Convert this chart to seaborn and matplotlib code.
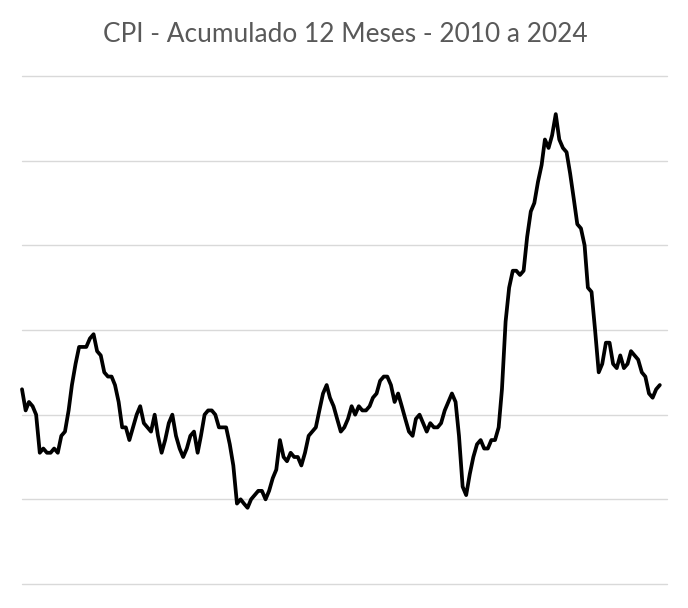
import numpy as np
import pandas as pd
import matplotlib
matplotlib.use("Agg")
import matplotlib.pyplot as plt
import seaborn as sns

# CPI EUA - variação acumulada em 12 meses (%), jan/2010 a nov/2024
cpi_2010 = [2.6, 2.1, 2.3, 2.2, 2.0, 1.1, 1.2, 1.1, 1.1, 1.2, 1.1, 1.5]
cpi_2011 = [1.6, 2.1, 2.7, 3.2, 3.6, 3.6, 3.6, 3.8, 3.9, 3.5, 3.4, 3.0]
cpi_2012 = [2.9, 2.9, 2.7, 2.3, 1.7, 1.7, 1.4, 1.7, 2.0, 2.2, 1.8, 1.7]
cpi_2013 = [1.6, 2.0, 1.5, 1.1, 1.4, 1.8, 2.0, 1.5, 1.2, 1.0, 1.2, 1.5]
cpi_2014 = [1.6, 1.1, 1.5, 2.0, 2.1, 2.1, 2.0, 1.7, 1.7, 1.7, 1.3, 0.8]
cpi_2015 = [-0.1, 0.0, -0.1, -0.2, 0.0, 0.1, 0.2, 0.2, 0.0, 0.2, 0.5, 0.7]
cpi_2016 = [1.4, 1.0, 0.9, 1.1, 1.0, 1.0, 0.8, 1.1, 1.5, 1.6, 1.7, 2.1]
cpi_2017 = [2.5, 2.7, 2.4, 2.2, 1.9, 1.6, 1.7, 1.9, 2.2, 2.0, 2.2, 2.1]
cpi_2018 = [2.1, 2.2, 2.4, 2.5, 2.8, 2.9, 2.9, 2.7, 2.3, 2.5, 2.2, 1.9]
cpi_2019 = [1.6, 1.5, 1.9, 2.0, 1.8, 1.6, 1.8, 1.7, 1.7, 1.8, 2.1, 2.3]
cpi_2020 = [2.5, 2.3, 1.5, 0.3, 0.1, 0.6, 1.0, 1.3, 1.4, 1.2, 1.2, 1.4]
cpi_2021 = [1.4, 1.7, 2.6, 4.2, 5.0, 5.4, 5.4, 5.3, 5.4, 6.2, 6.8, 7.0]
cpi_2022 = [7.5, 7.9, 8.5, 8.3, 8.6, 9.1, 8.5, 8.3, 8.2, 7.7, 7.1, 6.5]
cpi_2023 = [6.4, 6.0, 5.0, 4.9, 4.0, 3.0, 3.2, 3.7, 3.7, 3.2, 3.1, 3.4]
cpi_2024 = [3.1, 3.2, 3.5, 3.4, 3.3, 3.0, 2.9, 2.5, 2.4, 2.6, 2.7]

valores = (cpi_2010 + cpi_2011 + cpi_2012 + cpi_2013 + cpi_2014 + cpi_2015 + cpi_2016
           + cpi_2017 + cpi_2018 + cpi_2019 + cpi_2020 + cpi_2021 + cpi_2022
           + cpi_2023 + cpi_2024)
meses = pd.date_range("2010-01-01", periods=len(valores), freq="MS")
df = pd.DataFrame({"Mes": meses, "CPI": valores})

sns.set_theme(style="white")
plt.rcParams["font.family"] = ["Lato", "DejaVu Sans"]

fig = plt.figure(figsize=(6.88, 6.08), dpi=100)
ax = fig.add_axes([22 / 688, 24 / 608, 645 / 688, 508 / 608])

sns.lineplot(data=df, x="Mes", y="CPI", ax=ax, color="black", linewidth=2.7)
for line in ax.get_lines():
    line.set_solid_joinstyle("round")
    line.set_clip_on(False)

ax.set_ylim(-2, 10)
ax.set_yticks(np.arange(-2, 11, 2))
ax.set_xlim(pd.Timestamp("2010-01-01"), pd.Timestamp("2025-01-01"))
ax.grid(axis="y", color="#d9d9d9", linewidth=1.0)
ax.grid(axis="x", visible=False)
for g in ax.get_ygridlines():
    g.set_clip_on(False)
ax.set_axisbelow(True)
ax.tick_params(left=False, bottom=False, labelleft=False, labelbottom=False)
for s in ax.spines.values():
    s.set_visible(False)
ax.set_xlabel("")
ax.set_ylabel("")

fig.text(345 / 688, 1 - 35 / 608, "CPI - Acumulado 12 Meses - 2010 a 2024",
         ha="center", va="center", fontsize=18.9, color="#595959")

fig.savefig("out.png", dpi=100)
